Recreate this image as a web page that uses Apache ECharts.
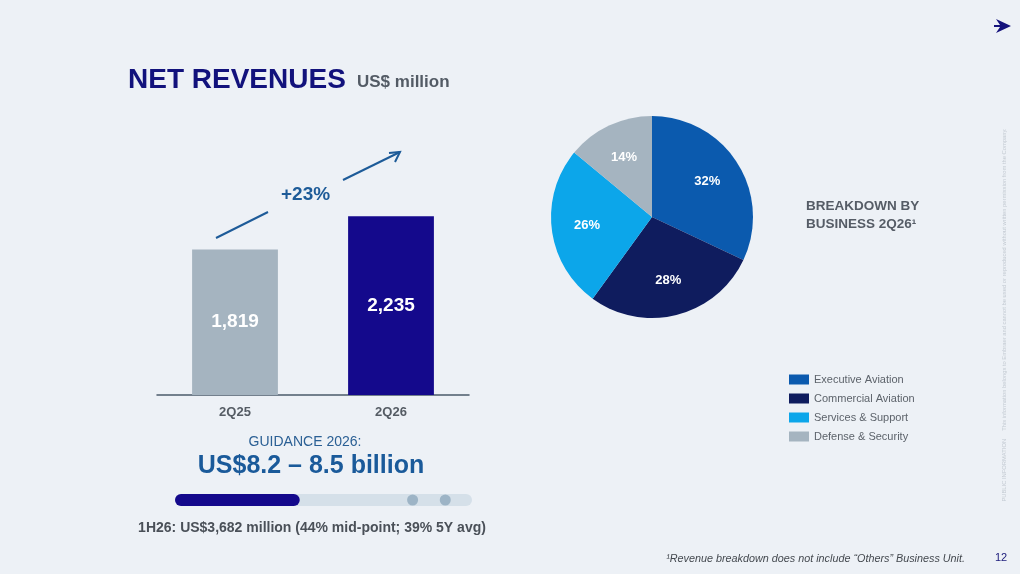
<!DOCTYPE html>
<html>
<head>
<meta charset="utf-8">
<script src="https://cdn.jsdelivr.net/npm/echarts@6/dist/echarts.min.js"></script>
<style>
	html, body { margin: 0; padding: 0; background: #edf1f6; }
	#main { width: 1020px; height: 574px; }
</style>
</head>
<body>
<div id="main"></div>
<script>
// 数据
var periods = ['2Q25', '2Q26'];
var revenues = [1819, 2235];
var barColors = ['#a5b4c0', '#14098c'];

var segments = ['Executive Aviation', 'Commercial Aviation', 'Services & Support', 'Defense & Security'];
var segmentShares = [32, 28, 26, 14];
var segmentColors = ['#0b5aae', '#0f1c5e', '#0ca6ea', '#a5b4c0'];

var guidanceFill = [42];
var guidanceMarks = [80, 91];

(function () {
	var font = 'Liberation Sans, Arial, sans-serif';
	var myChart = echarts.init(document.getElementById('main'));

	var pieData = [];
	for (var i = 0; i < segments.length; i++) {
		pieData.push({ name: segments[i], value: segmentShares[i], itemStyle: { color: segmentColors[i] } });
	}
	var labelData = [];
	for (var j = 0; j < segments.length; j++) {
		labelData.push({ name: segments[j], value: segmentShares[j] });
	}
	var barData = [];
	for (var k = 0; k < revenues.length; k++) {
		barData.push({ value: revenues[k], itemStyle: { color: barColors[k] } });
	}
	var dots = [];
	for (var d = 0; d < guidanceMarks.length; d++) {
		dots.push([guidanceMarks[d], 0]);
	}

	var option = {
		backgroundColor: '#edf1f6',
		animation: false,
		textStyle: { fontFamily: font },
		grid: [
			{ left: 157, top: 195, width: 312, height: 200 },
			{ left: 175, top: 494, width: 297, height: 12 }
		],
		xAxis: [
			{
				gridIndex: 0,
				type: 'category',
				data: periods,
				axisTick: { show: false },
				axisLine: { lineStyle: { color: '#4b5b6b', width: 1.5 } },
				axisLabel: { color: '#555c64', fontSize: 13, fontWeight: 'bold', margin: 11, fontFamily: font }
			},
			{
				gridIndex: 1,
				type: 'value',
				min: 0,
				max: 100,
				show: false
			}
		],
		yAxis: [
			{
				gridIndex: 0,
				type: 'value',
				min: 0,
				max: 2500,
				show: false
			},
			{
				gridIndex: 1,
				type: 'category',
				data: ['guidance'],
				show: false
			}
		],
		legend: {
			orient: 'vertical',
			left: 789,
			top: 374,
			padding: 0,
			itemWidth: 20,
			itemHeight: 10,
			itemGap: 8,
			icon: 'rect',
			data: segments,
			selectedMode: false,
			textStyle: { color: '#5d636b', fontSize: 11, fontFamily: font }
		},
		series: [
			{
				type: 'bar',
				xAxisIndex: 0,
				yAxisIndex: 0,
				barWidth: '55%',
				data: barData,
				label: {
					show: true,
					position: 'inside',
					color: '#fff',
					fontSize: 19,
					fontWeight: 'bold',
					fontFamily: font,
					formatter: function (p) {
						return p.value.toLocaleString('en-US');
					}
				}
			},
			{
				type: 'bar',
				xAxisIndex: 1,
				yAxisIndex: 1,
				barWidth: 12,
				data: guidanceFill,
				itemStyle: { color: '#14098c', borderRadius: 6 },
				showBackground: true,
				backgroundStyle: { color: '#d5e0e9', borderRadius: 6 },
				z: 2
			},
			{
				type: 'scatter',
				xAxisIndex: 1,
				yAxisIndex: 1,
				data: dots,
				symbolSize: 11,
				itemStyle: { color: '#8fa9bd' },
				z: 3
			},
			{
				name: 'pie',
				type: 'pie',
				center: [652, 217],
				radius: [0, 101],
				startAngle: 90,
				clockwise: true,
				data: pieData,
				label: { show: false },
				labelLine: { show: false },
				itemStyle: { borderWidth: 0 }
			},
			{
				// 仅用于放置百分比标签
				type: 'pie',
				center: [652, 217],
				radius: [0, 125],
				startAngle: 90,
				clockwise: true,
				silent: true,
				data: labelData,
				itemStyle: { color: 'rgba(0,0,0,0)', borderWidth: 0 },
				label: {
					show: true,
					position: 'inside',
					color: '#fff',
					fontSize: 13,
					fontWeight: 'bold',
					fontFamily: font,
					formatter: '{c}%'
				},
				labelLine: { show: false },
				emphasis: { disabled: true },
				z: 3
			}
		],
		graphic: [
			{
				type: 'text', left: 128, top: 66,
				style: { text: 'NET REVENUES', fill: '#12127c', font: 'bold 28px ' + font }
			},
			{
				type: 'text', left: 357, top: 74,
				style: { text: 'US$ million', fill: '#535b65', font: 'bold 17px ' + font }
			},
			{
				type: 'text', left: 281, top: 185,
				style: { text: '+23%', fill: '#1d5b98', font: 'bold 19px ' + font }
			},
			{
				type: 'line',
				shape: { x1: 216, y1: 238, x2: 268, y2: 212 },
				style: { stroke: '#1d5b98', lineWidth: 2 }
			},
			{
				type: 'line',
				shape: { x1: 343, y1: 180, x2: 400, y2: 152 },
				style: { stroke: '#1d5b98', lineWidth: 2 }
			},
			{
				type: 'polyline',
				shape: { points: [[389, 153], [400, 152], [395, 162]] },
				style: { stroke: '#1d5b98', lineWidth: 2, fill: null }
			},
			{
				type: 'text', left: 806, top: 197,
				style: { text: 'BREAKDOWN BY\nBUSINESS 2Q26\u00b9', fill: '#555c66', font: 'bold 13.5px ' + font, lineHeight: 18 }
			},
			{
				type: 'text', x: 305, y: 442,
				style: { text: 'GUIDANCE 2026:', fill: '#2a5f94', font: '14px ' + font, align: 'center', verticalAlign: 'middle' }
			},
			{
				type: 'text', x: 311, y: 466,
				style: { text: 'US$8.2 \u2013 8.5 billion', fill: '#1a5a9a', font: 'bold 25px ' + font, align: 'center', verticalAlign: 'middle' }
			},
			{
				type: 'text', x: 312, y: 528,
				style: { text: '1H26: US$3,682 million (44% mid-point; 39% 5Y avg)', fill: '#4a5058', font: 'bold 14px ' + font, align: 'center', verticalAlign: 'middle' }
			},
			{
				type: 'text', x: 965, y: 559,
				style: { text: '\u00b9Revenue breakdown does not include \u201cOthers\u201d Business Unit.', fill: '#44494f', font: 'italic 10.8px ' + font, align: 'right', verticalAlign: 'middle' }
			},
			{
				type: 'text', x: 1001, y: 558,
				style: { text: '12', fill: '#1a1a7a', font: '11px ' + font, align: 'center', verticalAlign: 'middle' }
			},
			{
				type: 'text', x: 1004, y: 315, rotation: Math.PI / 2,
				style: {
					text: 'PUBLIC INFORMATION     This information belongs to Embraer and cannot be used or reproduced without written permission from the Company.',
					fill: '#c3cad2', font: '5.8px ' + font, align: 'center', verticalAlign: 'middle'
				}
			},
			{
				type: 'polygon',
				shape: { points: [[996, 19], [1011, 26], [996, 33], [1000, 27], [994, 27], [994, 25], [1000, 25]] },
				style: { fill: '#14127c' }
			}
		]
	};
	myChart.setOption(option);
	window.addEventListener('resize', function () {
		myChart.resize();
	});
})();
</script>
</body>
</html>
